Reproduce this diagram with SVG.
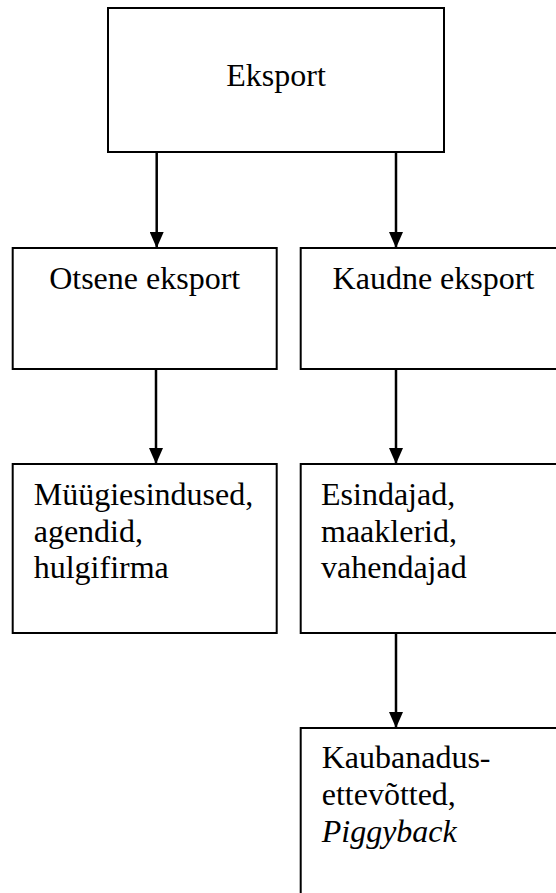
<svg xmlns="http://www.w3.org/2000/svg" width="556" height="893" viewBox="0 0 556 893">
  <style>
    .box { fill: #ffffff; stroke: #000000; stroke-width: 2; }
    .conn { stroke: #000000; stroke-width: 2.5; fill: none; }
    text { font-family: 'Liberation Serif', 'Times New Roman', Tinos, 'DejaVu Serif', serif; font-size: 32px; fill: #000000; }
    .it { font-style: italic; }
  </style>
  <defs>
    <marker id="arr" viewBox="0 0 16 14" refX="16" refY="7" markerWidth="16" markerHeight="14" markerUnits="userSpaceOnUse" orient="auto">
      <path d="M0,0 L16,7 L0,14 z" fill="#000000"/>
    </marker>
  </defs>
  <rect x="0" y="0" width="556" height="893" fill="#ffffff"/>

  <g id="n-eksport">
    <rect class="box" x="108" y="8" width="336" height="144"/>
    <text x="276" y="86" text-anchor="middle">Eksport</text>
  </g>
  <g id="n-otsene">
    <rect class="box" x="12.7" y="248" width="264" height="121"/>
    <text x="144.7" y="289" text-anchor="middle">Otsene eksport</text>
  </g>
  <g id="n-kaudne">
    <rect class="box" x="300.7" y="248" width="264" height="121"/>
    <text x="332.6" y="289">Kaudne eksport</text>
  </g>
  <g id="n-myygi">
    <rect class="box" x="12.7" y="464" width="264" height="169"/>
    <text x="33.7" y="505">Müügiesindused,</text>
    <text x="33.7" y="542">agendid,</text>
    <text x="33.7" y="578">hulgifirma</text>
  </g>
  <g id="n-esindajad">
    <rect class="box" x="300.7" y="464" width="264" height="169"/>
    <text x="321" y="505">Esindajad,</text>
    <text x="321" y="542">maaklerid,</text>
    <text x="321" y="578">vahendajad</text>
  </g>
  <g id="n-kaubandus">
    <rect class="box" x="300.7" y="728" width="264" height="180"/>
    <text x="321.7" y="768">Kaubanadus-</text>
    <text x="321.7" y="805">ettevõtted,</text>
    <text class="it" x="321.7" y="842">Piggyback</text>
  </g>

  <g id="connectors">
    <line class="conn" x1="156.7" y1="152" x2="156.7" y2="248" marker-end="url(#arr)"/>
    <line class="conn" x1="396" y1="152" x2="396" y2="248" marker-end="url(#arr)"/>
    <line class="conn" x1="156" y1="369" x2="156" y2="464" marker-end="url(#arr)"/>
    <line class="conn" x1="396" y1="369" x2="396" y2="464" marker-end="url(#arr)"/>
    <line class="conn" x1="396" y1="633" x2="396" y2="728" marker-end="url(#arr)"/>
  </g>
</svg>
